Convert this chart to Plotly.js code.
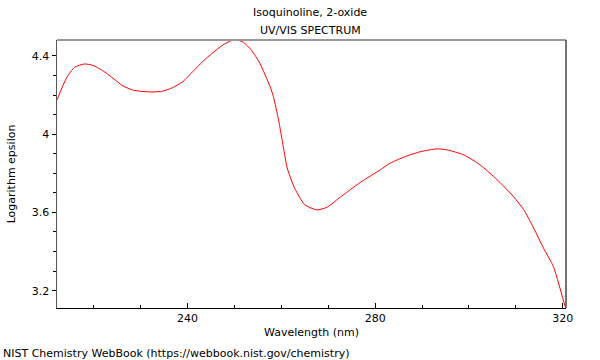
<!DOCTYPE html>
<html>
<head>
<meta charset="utf-8">
<script src="https://cdn.plot.ly/plotly-3.0.1.min.js"></script>
<style>html,body{margin:0;padding:0;background:#fff;}#chart{width:600px;height:360px;}</style>
</head>
<body>
<div id="chart"></div>
<script>
const wavelength = [212.15, 214.15, 215.9, 218.0, 219.8, 221.9, 224.1, 226.2, 228.3, 230.5, 232.6, 234.7, 236.8, 239.0, 241.1, 243.2, 245.4, 247.5, 249.3, 250.4, 251.9, 253.6, 255.4, 257.6, 258.3, 259.4, 260.4, 261.3, 262.9, 265.0, 267.6, 269.7, 272.4, 276.8, 281.1, 283.2, 286.8, 289.7, 293.2, 295.3, 298.9, 302.4, 306.0, 309.5, 311.7, 313.8, 315.9, 318.0, 319.1, 320.5];
const logEpsilon = [4.175, 4.286, 4.342, 4.359, 4.352, 4.325, 4.286, 4.247, 4.226, 4.218, 4.216, 4.220, 4.238, 4.269, 4.320, 4.371, 4.417, 4.456, 4.478, 4.482, 4.470, 4.430, 4.363, 4.243, 4.192, 4.073, 3.937, 3.822, 3.720, 3.639, 3.613, 3.626, 3.675, 3.753, 3.818, 3.852, 3.889, 3.911, 3.925, 3.920, 3.894, 3.843, 3.767, 3.681, 3.613, 3.520, 3.418, 3.324, 3.239, 3.120];
const titleLines = ["Isoquinoline, 2-oxide", "UV/VIS SPECTRUM"];
const xLabel = "Wavelength (nm)";
const yLabel = "Logarithm epsilon";
const footer = "NIST Chemistry WebBook (https://webbook.nist.gov/chemistry)";

const font = {family: "DejaVu Sans", size: 11, color: "#000"};
const trace = {x: wavelength, y: logEpsilon, type: "scatter", mode: "lines",
  line: {color: "#ff0000", width: 1, shape: "spline", smoothing: 0.6}, hoverinfo: "skip"};

const plotH = 268, plotW = 509;
const layout = {
  width: 600, height: 360,
  margin: {l: 57, r: 34, t: 40, b: 52},
  paper_bgcolor: "#fff", plot_bgcolor: "#fff",
  font: font, showlegend: false,
  xaxis: {range: [212.15, 320.7], tick0: 0, dtick: 40, ticks: "inside", ticklen: 5, tickcolor: "#000",
          showline: true, linecolor: "#000", linewidth: 1, showgrid: false, zeroline: false,
          minor: {dtick: 10, ticks: "inside", ticklen: 3, tickcolor: "#000", showgrid: false},
          tickfont: font, title: {text: xLabel, font: font, standoff: 4}},
  yaxis: {range: [3.1113, 4.4816], tick0: 0, dtick: 0.4, ticks: "outside", ticklen: 4, tickcolor: "#000",
          showline: true, linecolor: "#555", linewidth: 1.5, showgrid: false, zeroline: false,
          minor: {dtick: 0.1, ticks: "outside", ticklen: 3, tickcolor: "#000", showgrid: false},
          tickfont: font, title: {text: yLabel, font: font, standoff: 14}},
  shapes: [
    {type: "line", xref: "paper", yref: "paper", x0: 0, x1: 1, y0: 1, y1: 1, line: {color: "#999", width: 2}},
    {type: "line", xref: "paper", yref: "paper", x0: 1, x1: 1, y0: 0, y1: 1, line: {color: "#444", width: 1.5}}
  ],
  annotations: [
    {text: titleLines[0], xref: "paper", yref: "paper", x: (310 - 57) / plotW, y: (308 - 13) / plotH,
     xanchor: "center", yanchor: "middle", showarrow: false, font: font},
    {text: titleLines[1], xref: "paper", yref: "paper", x: (310 - 57) / plotW, y: (308 - 30) / plotH,
     xanchor: "center", yanchor: "middle", showarrow: false, font: font},
    {text: footer, xref: "paper", yref: "paper", x: -56 / plotW, y: -45 / plotH, xanchor: "left", yanchor: "middle",
     showarrow: false, font: font}
  ]
};
Plotly.newPlot("chart", [trace], layout, {staticPlot: true, displayModeBar: false});
</script>
</body>
</html>
